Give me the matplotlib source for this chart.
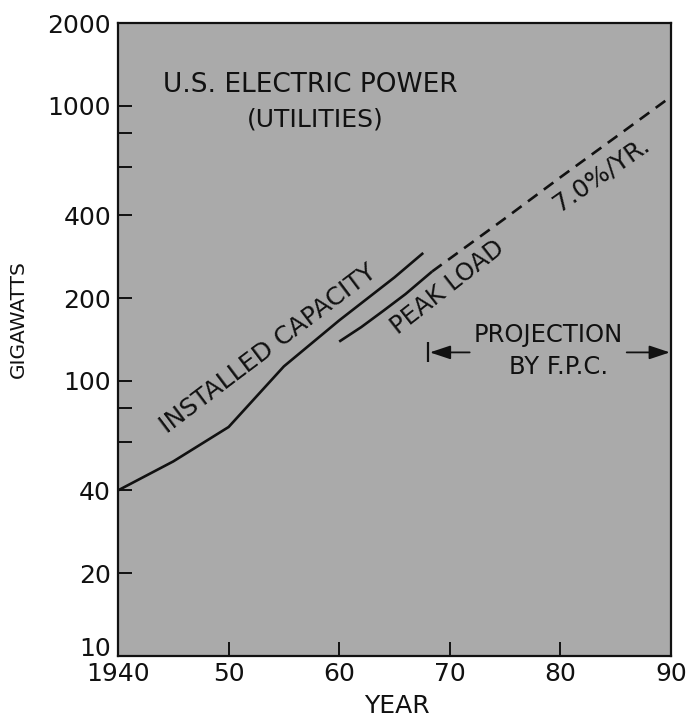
import matplotlib
matplotlib.use("Agg")
import matplotlib.pyplot as plt

# installed capacity, gigawatts
installed_years = [1940, 1945, 1950, 1955, 1960, 1965, 1967.6]
installed_gw = [40, 51, 68, 113, 166, 238, 292]

# peak load (actual)
peak_years = [1960, 1962, 1964, 1966, 1968.4]
peak_gw = [139, 157, 180, 207, 250]

# peak load projection by F.P.C., 7.0 %/yr
proj_years = [1968.4, 1975, 1980, 1985, 1990]
proj_gw = [250, 390, 550, 770, 1080]

proj_start = 1968
proj_end = 1990
proj_arrow_level = 127

xticks = [1940, 1950, 1960, 1970, 1980, 1990]
xlabels = ["1940", "50", "60", "70", "80", "90"]
yticks = [10, 20, 40, 60, 80, 100, 200, 400, 600, 800, 1000, 2000]
ylabels = ["10", "20", "40", "", "", "100", "200", "400", "", "", "1000", "2000"]

ink = "#111111"
bg = "#aaaaaa"

fig = plt.figure(figsize=(6.89, 7.2), dpi=100)
ax = fig.add_axes([0.1713, 0.0889, 0.8025, 0.879])
ax.set_facecolor(bg)
ax.set_yscale("log")
ax.set_xlim(1940, 1990)
ax.set_ylim(10, 2000)

ax.plot(installed_years, installed_gw, color=ink, lw=1.9, solid_capstyle="butt")
ax.plot(peak_years, peak_gw, color=ink, lw=1.9, solid_capstyle="butt")
ax.plot(proj_years, proj_gw, color=ink, lw=1.9, ls=(0, (4.5, 3)))

ax.set_xticks(xticks)
ax.set_xticklabels(xlabels)
ax.set_yticks(yticks)
ax.set_yticklabels(ylabels)
ax.minorticks_off()
ax.tick_params(direction="in", length=10, width=1.4, color=ink,
               labelsize=18, labelcolor=ink)
ax.tick_params(axis="y", pad=5)
ax.tick_params(axis="x", pad=4)
# bottom label sits on its tick so it clears "1940"
ax.get_yticklabels()[0].set_verticalalignment("baseline")
for s in ax.spines.values():
    s.set_linewidth(1.6)
    s.set_color(ink)

ax.set_xlabel("YEAR", fontsize=18, color=ink)
ax.set_ylabel("GIGAWATTS", fontsize=14.5, color=ink)
ax.xaxis.set_label_coords(0.505, -0.06)
ax.yaxis.set_label_coords(-0.163, 0.532)

ax.text(1957.4, 1125, "U.S. ELECTRIC POWER", fontsize=19, color=ink,
        ha="center", va="baseline")
ax.text(1957.8, 840, "(UTILITIES)", fontsize=18, color=ink,
        ha="center", va="baseline")

ax.text(1944.4, 64, "INSTALLED CAPACITY", fontsize=18, color=ink,
        rotation=37, rotation_mode="anchor", ha="left", va="baseline")
ax.text(1965.3, 147, "PEAK LOAD", fontsize=17.5, color=ink,
        rotation=38, rotation_mode="anchor", ha="left", va="baseline")
ax.text(1979.9, 412, "7.0%/YR.", fontsize=18, color=ink,
        rotation=35, rotation_mode="anchor", ha="left", va="baseline")

ax.text(1978.9, 147, "PROJECTION", fontsize=17.5, color=ink,
        ha="center", va="center")
ax.text(1979.8, 112, "BY F.P.C.", fontsize=17.5, color=ink,
        ha="center", va="center")

# projection range arrows
ax.annotate("", xy=(proj_start + 0.2, proj_arrow_level),
            xytext=(proj_start + 3.8, proj_arrow_level),
            arrowprops=dict(arrowstyle="-|>,head_length=0.9,head_width=0.3",
                            color=ink, lw=1.3, shrinkA=0, shrinkB=0,
                            mutation_scale=14))
ax.plot([proj_start], [proj_arrow_level], marker="|", ms=14, mew=1.6,
        color=ink)
ax.annotate("", xy=(proj_end - 0.1, proj_arrow_level),
            xytext=(proj_end - 4.0, proj_arrow_level),
            arrowprops=dict(arrowstyle="-|>,head_length=0.9,head_width=0.3",
                            color=ink, lw=1.3, shrinkA=0, shrinkB=0,
                            mutation_scale=14))

fig.savefig("out.png", dpi=100, facecolor="white")
